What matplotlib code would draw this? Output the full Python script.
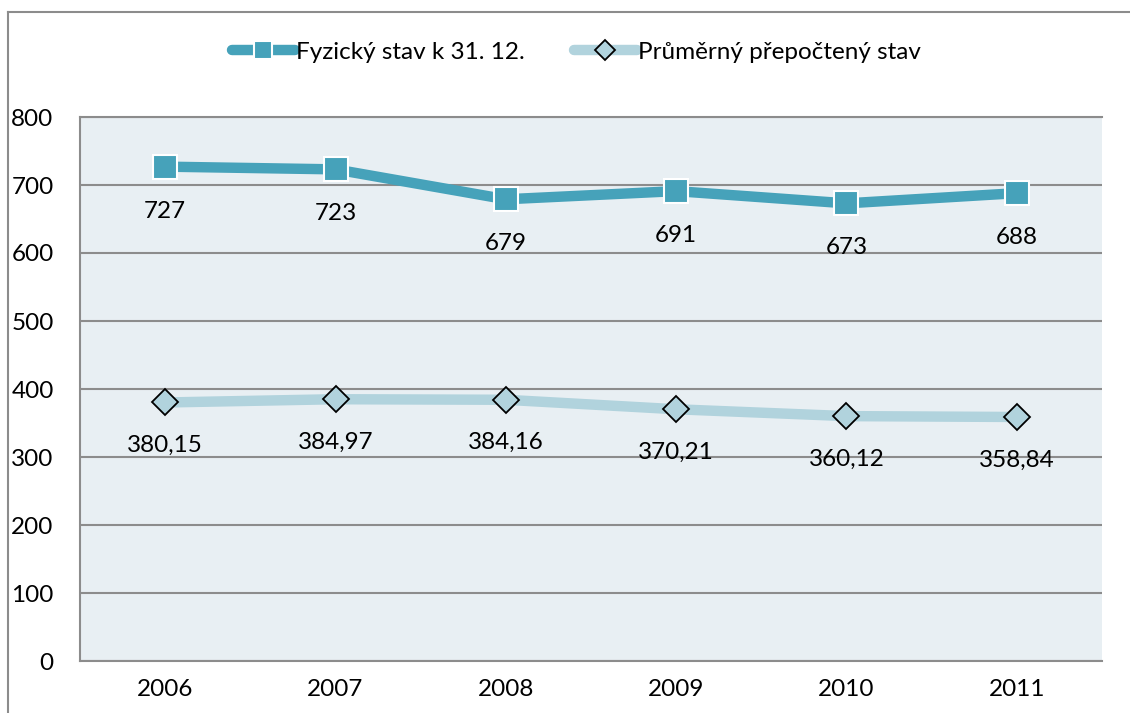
import matplotlib
matplotlib.use("Agg")
import matplotlib.pyplot as plt
from matplotlib.lines import Line2D

years = ["2006", "2007", "2008", "2009", "2010", "2011"]
fyzicky = [727, 723, 679, 691, 673, 688]
prumerny = [380.15, 384.97, 384.16, 370.21, 360.12, 358.84]
yticks = [0, 100, 200, 300, 400, 500, 600, 700, 800]
series_names = ["Fyzický stav k 31. 12.", "Průměrný přepočtený stav"]

plt.rcParams['font.family'] = ['Lato', 'DejaVu Sans']

W, H = 1130, 713
fig = plt.figure(figsize=(W/100, H/100), dpi=100)
ax = fig.add_axes([80/W, 1-661/H, (1102-80)/W, (661-117)/H])

dark = "#46A2BA"
light = "#B1D3DD"
ax.set_facecolor("#E8EFF3")

FS = 17.5

x = list(range(len(years)))
ax.plot(x, fyzicky, color=dark, lw=7.5, marker='s', ms=17, mfc=dark, mec='white', mew=1.5,
        solid_capstyle='round', zorder=3)
ax.plot(x, prumerny, color=light, lw=7.5, marker='D', ms=13, mfc=light, mec='black', mew=1.3,
        solid_capstyle='round', zorder=3)

for xi, v in zip(x, fyzicky):
    ax.annotate(f"{v}", (xi, v), xytext=(0, -32), textcoords='offset points',
                ha='center', va='center', fontsize=FS, color='black')
for xi, v in zip(x, prumerny):
    ax.annotate(f"{v:.2f}".replace('.', ','), (xi, v), xytext=(0, -31), textcoords='offset points',
                ha='center', va='center', fontsize=FS, color='black')

ax.set_xlim(-0.5, len(years)-0.5)
ax.set_ylim(0, 800)
ax.set_yticks(yticks)
ax.set_yticklabels([str(t) for t in yticks], fontsize=FS)
ax.set_xticks(x)
ax.set_xticklabels(years, fontsize=FS)
ax.tick_params(axis='both', length=0)
ax.tick_params(axis='y', pad=19)
ax.tick_params(axis='x', pad=13)
ax.grid(axis='y', color='#8C8C8C', lw=1.5, zorder=1)
ax.set_axisbelow(True)
for s in ['left', 'top', 'bottom']:
    ax.spines[s].set_color('#8C8C8C')
    ax.spines[s].set_linewidth(1.5)
ax.spines['right'].set_visible(False)

# outer chart border (left and top)
fig.add_artist(Line2D([8/W, 8/W], [0, 1-12/H], transform=fig.transFigure, color='#8C8C8C', lw=1.5))
fig.add_artist(Line2D([8/W, 1], [1-12/H, 1-12/H], transform=fig.transFigure, color='#8C8C8C', lw=1.5))

handles = [
    Line2D([0], [0], color=dark, lw=7.5, marker='s', ms=13, mfc=dark, mec='white', mew=1.5, solid_capstyle='round'),
    Line2D([0], [0], color=light, lw=7.5, marker='D', ms=10, mfc=light, mec='black', mew=1.3, solid_capstyle='round'),
]
fig.legend(handles, series_names, loc='center', bbox_to_anchor=(0.51, 1-52/H), ncol=2,
           frameon=False, fontsize=FS, handlelength=2.6, handletextpad=0.05, columnspacing=2.0)

fig.savefig("out.png", dpi=100)
